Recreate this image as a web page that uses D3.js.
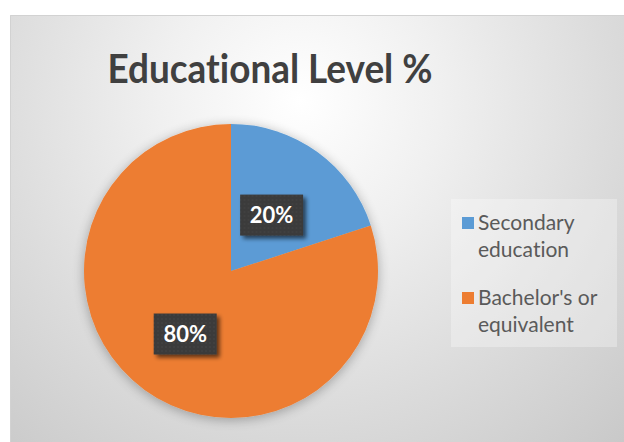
<!DOCTYPE html>
<html>
<head>
<meta charset="utf-8">
<script src="https://cdnjs.cloudflare.com/ajax/libs/d3/7.8.5/d3.min.js"></script>
<style>
  html, body { margin: 0; padding: 0; background: #ffffff; }
  svg { display: block; }
  text { font-variant-ligatures: none; }
</style>
</head>
<body>
<svg id="chart" width="624" height="442"></svg>
<script>
// Education level shares
const categories = ["Secondary education", "Bachelor's or equivalent"];
const legendLines = [["Secondary", "education"], ["Bachelor's or", "equivalent"]];
const values = [20, 80];
const labels = ["20%", "80%"];
const colors = ["#5b9bd5", "#ed7d31"];
const labelRadius = [0.47, 0.53]; // fraction of the pie radius for each data label

const W = 624, H = 442;
const FONT = "Lato, 'Open Sans', sans-serif";
const svg = d3.select("#chart");
const defs = svg.append("defs");

// Chart area background: soft radial light toward the top centre
const bg = defs.append("radialGradient").attr("id", "bgGrad")
  .attr("gradientUnits", "userSpaceOnUse")
  .attr("cx", 300).attr("cy", 100).attr("r", 470)
  .attr("fx", 300).attr("fy", 100);
bg.append("stop").attr("offset", "0").attr("stop-color", "#ffffff");
bg.append("stop").attr("offset", "0.3").attr("stop-color", "#f0f0f0");
bg.append("stop").attr("offset", "0.65").attr("stop-color", "#dcdcdc");
bg.append("stop").attr("offset", "1").attr("stop-color", "#c9c9c9");

const pieShadow = defs.append("filter").attr("id", "pieShadow")
  .attr("x", "-20%").attr("y", "-20%").attr("width", "140%").attr("height", "140%");
pieShadow.append("feGaussianBlur").attr("in", "SourceAlpha").attr("stdDeviation", 6).attr("result", "b");
pieShadow.append("feOffset").attr("in", "b").attr("dx", 0).attr("dy", 2).attr("result", "o");
pieShadow.append("feComponentTransfer").attr("in", "o").attr("result", "s")
  .append("feFuncA").attr("type", "linear").attr("slope", 0.3);
const pm = pieShadow.append("feMerge");
pm.append("feMergeNode").attr("in", "s");
pm.append("feMergeNode").attr("in", "SourceGraphic");

const boxShadow = defs.append("filter").attr("id", "boxShadow")
  .attr("x", "-30%").attr("y", "-30%").attr("width", "170%").attr("height", "170%");
boxShadow.append("feGaussianBlur").attr("in", "SourceAlpha").attr("stdDeviation", 2.2).attr("result", "b");
boxShadow.append("feOffset").attr("in", "b").attr("dx", 3).attr("dy", 3).attr("result", "o");
boxShadow.append("feComponentTransfer").attr("in", "o").attr("result", "s")
  .append("feFuncA").attr("type", "linear").attr("slope", 0.6);
const bm = boxShadow.append("feMerge");
bm.append("feMergeNode").attr("in", "s");
bm.append("feMergeNode").attr("in", "SourceGraphic");

// dotted texture for data-label boxes
const pat = defs.append("pattern").attr("id", "dots")
  .attr("patternUnits", "userSpaceOnUse").attr("width", 4).attr("height", 4);
pat.append("rect").attr("width", 4).attr("height", 4).attr("fill", "#3a3a3a");
pat.append("circle").attr("cx", 1).attr("cy", 1).attr("r", 0.7).attr("fill", "#4b4b4b");

// chart area
svg.append("rect").attr("x", 10).attr("y", 15).attr("width", W - 10).attr("height", H - 15)
  .attr("fill", "url(#bgGrad)");
svg.append("path").attr("d", `M10.5,${H}V15.5H${W}`)
  .attr("fill", "none").attr("stroke", "#d2d2d2").attr("stroke-width", 1);

// title
svg.append("text")
  .attr("x", 270).attr("y", 83)
  .attr("text-anchor", "middle")
  .attr("font-family", FONT)
  .attr("font-weight", "bold")
  .attr("font-size", 41)
  .attr("fill", "#404040")
  .attr("textLength", 325)
  .attr("lengthAdjust", "spacingAndGlyphs")
  .text("Educational Level %");

// pie
const cx = 231, cy = 271, R = 147;
const pie = d3.pie().sort(null).value(d => d);
const arcs = pie(values);
const arc = d3.arc().innerRadius(0).outerRadius(R);

const g = svg.append("g").attr("transform", `translate(${cx},${cy})`);
g.append("g").attr("filter", "url(#pieShadow)")
  .selectAll("path").data(arcs).join("path")
  .attr("d", arc)
  .attr("fill", (d, i) => colors[i]);

// data labels
const bw = 63, bh = 41;
const lab = g.selectAll("g.lab").data(arcs).join("g").attr("class", "lab")
  .attr("transform", (d, i) => {
    const r = R * labelRadius[i];
    const [x, y] = d3.arc().innerRadius(r).outerRadius(r).centroid(d);
    return `translate(${x},${y})`;
  });
lab.append("rect")
  .attr("x", -bw / 2).attr("y", -bh / 2).attr("width", bw).attr("height", bh)
  .attr("fill", "url(#dots)")
  .attr("filter", "url(#boxShadow)");
lab.append("text")
  .attr("text-anchor", "middle").attr("dy", "0.36em")
  .attr("font-family", FONT)
  .attr("font-weight", "bold").attr("font-size", 22)
  .attr("fill", "#ffffff")
  .text((d, i) => labels[i]);

// legend
const lg = svg.append("g");
lg.append("rect").attr("x", 451).attr("y", 199).attr("width", 166).attr("height", 148)
  .attr("fill", "#ffffff").attr("fill-opacity", 0.3);
const items = lg.selectAll("g.item").data(categories).join("g").attr("class", "item")
  .attr("transform", (d, i) => `translate(462,${217 + i * 75})`);
items.append("rect").attr("x", 0).attr("y", 0).attr("width", 12).attr("height", 12)
  .attr("fill", (d, i) => colors[i]);
items.each(function (d, i) {
  const t = d3.select(this).append("text")
    .attr("font-family", FONT)
    .attr("font-size", 21).attr("fill", "#5a5a5a");
  legendLines[i].forEach((ln, j) => {
    t.append("tspan").attr("x", 16).attr("y", 13 + j * 27).text(ln);
  });
});
</script>
</body>
</html>
